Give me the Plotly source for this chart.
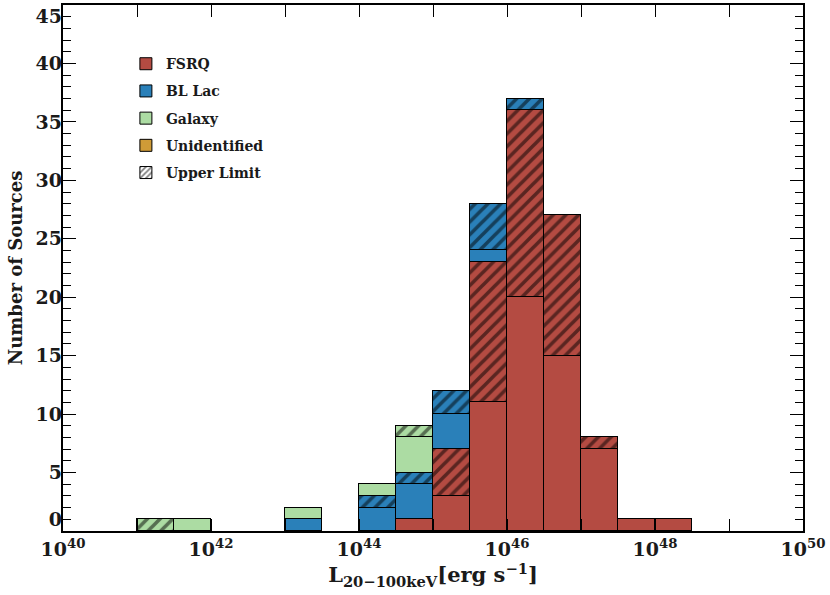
import plotly.graph_objects as go

# half-decade bins in log10(L), lower edges 41.0 ... 48.0
bin_lo = [41.0, 41.5, 42.0, 42.5, 43.0, 43.5, 44.0, 44.5, 45.0, 45.5, 46.0, 46.5, 47.0, 47.5, 48.0]
bin_width = 0.5

fsrq_det = [0, 0, 0, 0, 0, 0, 0, 1, 3, 11, 20, 15, 7, 1, 1]
fsrq_ul = [0, 0, 0, 0, 0, 0, 0, 0, 4, 12, 16, 12, 1, 0, 0]
bllac_det = [0, 0, 0, 0, 1, 0, 2, 3, 3, 1, 0, 0, 0, 0, 0]
bllac_ul = [0, 0, 0, 0, 0, 0, 1, 1, 2, 4, 1, 0, 0, 0, 0]
galaxy_det = [0, 1, 0, 0, 1, 0, 1, 3, 0, 0, 0, 0, 0, 0, 0]
galaxy_ul = [1, 0, 0, 0, 0, 0, 0, 1, 0, 0, 0, 0, 0, 0, 0]

x_ticks = [40, 42, 44, 46, 48, 50]
y_ticks = [0, 5, 10, 15, 20, 25, 30, 35, 40, 45]

colors = {'FSRQ': '#b44b42', 'BL Lac': '#2a80b9', 'Galaxy': '#acdca3', 'Unidentified': '#cf9b37'}
font_family = 'DejaVu Serif'
ink = '#1a1a1a'

centers = [b + bin_width / 2 for b in bin_lo]


def nz(vals):
    return [v if v else None for v in vals]


def hatch(bg):
    return dict(shape='/', fgcolor='black', bgcolor=bg, size=9, solidity=0.4, fillmode='overlay')


fig = go.Figure()

series = [('FSRQ', fsrq_det, fsrq_ul), ('BL Lac', bllac_det, bllac_ul), ('Galaxy', galaxy_det, galaxy_ul)]
for name, det, ul in series:
    fig.add_trace(go.Bar(x=centers, y=nz(det), width=bin_width, name=name, legendgroup=name,
                         marker=dict(color=colors[name], line=dict(color='black', width=1))))
    fig.add_trace(go.Bar(x=centers, y=nz(ul), width=bin_width, name=name + ' (UL)', showlegend=False,
                         legendgroup=name,
                         marker=dict(color=colors[name], line=dict(color='black', width=1),
                                     pattern=hatch(colors[name]))))

# legend-only entries
fig.add_trace(go.Bar(x=[None], y=[None], name='Unidentified', legendgroup='Unidentified',
                     marker=dict(color=colors['Unidentified'], line=dict(color='black', width=1))))
fig.add_trace(go.Bar(x=[None], y=[None], name='Upper Limit', legendgroup='Upper Limit',
                     marker=dict(color='white', line=dict(color='black', width=1),
                                 pattern=dict(shape='/', fgcolor='black', bgcolor='white',
                                              size=5, solidity=0.45, fillmode='overlay'))))
# empty trace so the label axis gets drawn
fig.add_trace(go.Scatter(x=[None], y=[None], yaxis='y2', showlegend=False, hoverinfo='skip'))

fig.update_layout(
    width=830, height=595,
    margin=dict(l=63, r=27, t=3, b=64),
    paper_bgcolor='white', plot_bgcolor='white',
    barmode='stack', bargap=0,
    font=dict(family=font_family, color=ink, size=18),
    showlegend=True,
    legend=dict(x=0.085, y=0.918, xanchor='left', yanchor='top', traceorder='grouped',
                tracegroupgap=6, bgcolor='rgba(0,0,0,0)',
                font=dict(family=font_family, size=14, color=ink, weight='bold')),
    xaxis=dict(range=[40, 50], tickvals=x_ticks,
               ticktext=['10<sup>%d</sup>' % t for t in x_ticks],
               ticks='inside', ticklen=12, tickwidth=1.2, tickcolor='black',
               minor=dict(dtick=1, ticks='inside', ticklen=7, tickcolor='black'),
               showline=True, linecolor='black', linewidth=1.5, mirror='allticks',
               showgrid=False, zeroline=False,
               tickfont=dict(size=19, weight='bold'),
               title=dict(text='L<sub>20\u2212100keV</sub>[erg s<sup>\u22121</sup>]',
                          font=dict(size=21, weight='bold'), standoff=3)),
    yaxis=dict(range=[0, 45], tickvals=y_ticks, showticklabels=False,
               ticks='inside', ticklen=13, tickwidth=1.2, tickcolor='black',
               minor=dict(dtick=1, ticks='inside', ticklen=8, tickcolor='black'),
               showline=True, linecolor='black', linewidth=1.5, mirror='allticks',
               showgrid=False, zeroline=False),
    # labels of the reference sit one step inside at the bottom and top ends
    yaxis2=dict(overlaying='y', side='left', anchor='x', range=[0, 45],
                tickvals=[1, 5, 10, 15, 20, 25, 30, 35, 40, 44],
                ticktext=[str(t) for t in y_ticks], ticks='', showline=False,
                showgrid=False, zeroline=False,
                tickfont=dict(size=19, weight='bold'),
                title=dict(text='Number of Sources', font=dict(size=18, weight='bold'), standoff=8)),
)

# the page body has a default margin; drop it so the figure sits at the window corner
fig.write_html("out.html", config={'displayModeBar': False},
               post_script="document.body.style.margin='0';")
